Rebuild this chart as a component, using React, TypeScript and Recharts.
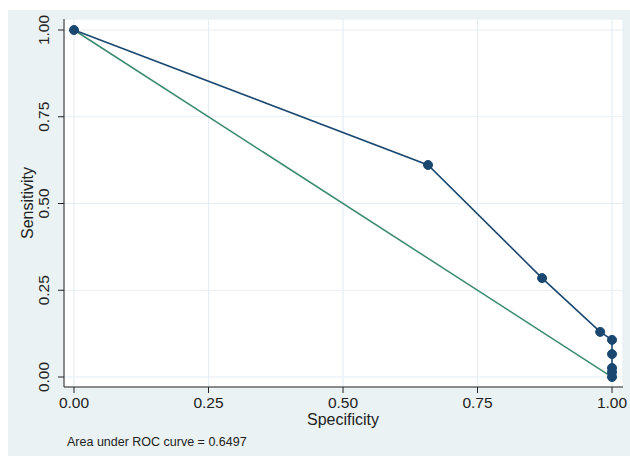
import React from "react";
import { LineChart, Line, XAxis, YAxis, CartesianGrid } from "recharts";

const specificity = [0, 0.658, 0.87, 0.978, 1, 1, 1, 1, 1];
const sensitivity = [1, 0.611, 0.285, 0.13, 0.107, 0.066, 0.026, 0.014, 0];
const refSpec = [0, 1];
const refSens = [1, 0];
const ticks = [0, 0.25, 0.5, 0.75, 1];
const aucText = "Area under ROC curve = 0.6497";

const rocData = specificity.map((x, i) => ({ x, y: sensitivity[i] }));
const refData = refSpec.map((x, i) => ({ x, ref: refSens[i] }));

const FONT = "'Liberation Sans', Arial, sans-serif";
const NAVY = "#1a476f";
const GREEN = "#3a8a6e";

function YTick(props: any) {
  const { x, y, payload } = props;
  const bx = x - 7;
  return (
    <text
      x={bx}
      y={y}
      transform={`rotate(-90, ${bx}, ${y})`}
      textAnchor="middle"
      fontSize={15.5}
      fontFamily={FONT}
      fill="#222"
    >
      {payload.value.toFixed(2)}
    </text>
  );
}

function XTick(props: any) {
  const { x, y, payload } = props;
  return (
    <text x={x} y={y + 13} textAnchor="middle" fontSize={15.5} fontFamily={FONT} fill="#222">
      {payload.value.toFixed(2)}
    </text>
  );
}

export default function App() {
  return (
    <div style={{ position: "fixed", left: 8, top: 10, width: 622, height: 446, background: "#eaf2f3" }}>
      <LineChart width={622} height={446} margin={{ top: 9, right: 7, left: 0, bottom: 0 }}>
        <CartesianGrid fill="#ffffff" stroke="#e6eef3" strokeWidth={1.2} />
        <XAxis
          type="number"
          dataKey="x"
          domain={[-0.0186, 1.0204]}
          ticks={ticks}
          height={69}
          tick={<XTick />}
          tickLine={{ stroke: "#222" }}
          axisLine={{ stroke: "#222" }}
          tickSize={6}
          allowDataOverflow
        />
        <YAxis
          type="number"
          domain={[-0.0288, 1.0317]}
          ticks={ticks}
          width={56}
          tick={<YTick />}
          tickLine={{ stroke: "#222" }}
          axisLine={{ stroke: "#222" }}
          tickSize={6}
          allowDataOverflow
        />
        <Line
          data={refData}
          dataKey="ref"
          type="linear"
          stroke={GREEN}
          strokeWidth={1.5}
          dot={false}
          isAnimationActive={false}
        />
        <Line
          data={rocData}
          dataKey="y"
          type="linear"
          stroke={NAVY}
          strokeWidth={1.6}
          dot={{ r: 4.5, fill: NAVY, stroke: NAVY, strokeWidth: 1 }}
          isAnimationActive={false}
        />
        <text
          x={25}
          y={193}
          transform="rotate(-90, 25, 193)"
          textAnchor="middle"
          fontSize={16}
          fontFamily={FONT}
          fill="#222"
        >
          Sensitivity
        </text>
        <text x={335} y={415} textAnchor="middle" fontSize={16} fontFamily={FONT} fill="#222">
          Specificity
        </text>
        <text x={59} y={436} fontSize={12.5} fontFamily={FONT} fill="#222">
          {aucText}
        </text>
      </LineChart>
    </div>
  );
}
